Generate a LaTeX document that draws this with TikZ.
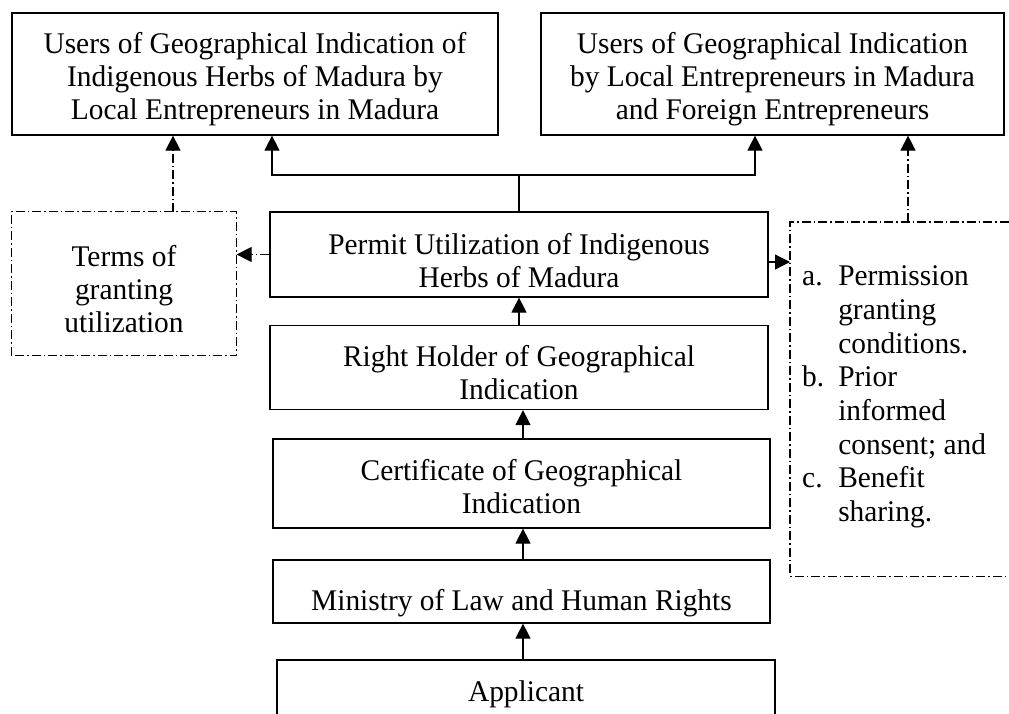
\documentclass[tikz,border=0pt]{standalone}
\usepackage{fontspec}
\setmainfont{Liberation Serif}[FakeStretch=0.98]
\usetikzlibrary{arrows.meta,calc}
\newcommand{\lowtext}[2][7pt]{\raisebox{-#1}[\height][\depth]{\begin{tabular}{@{}c@{}}#2\end{tabular}}}
\begin{document}
\begin{tikzpicture}[x=1pt,y=-1pt,
  box/.style={draw,line width=1.2pt,rectangle,inner sep=0pt,align=center,font=\fontsize{30}{33}\selectfont},
  dd/.style={line width=1.2pt,dash pattern=on 9pt off 3pt on 1.5pt off 3pt},
  arr/.style={-{Triangle[length=15pt,width=15pt]}},
  ln/.style={line width=1.2pt}]
\clip (0,0) rectangle (1009,713);
\fill[white] (0,0) rectangle (1009,713);
\node[box,minimum width=486pt,minimum height=122pt] (tl) at (255,74)
  {\lowtext[6pt]{Users of Geographical Indication of\\Indigenous Herbs of Madura by\\Local Entrepreneurs in Madura}};
\node[box,minimum width=463pt,minimum height=122pt] (tr) at (772.5,74)
  {\lowtext[6pt]{Users of Geographical Indication\\by Local Entrepreneurs in Madura\\and Foreign Entrepreneurs}};
\node[box,minimum width=498pt,minimum height=85pt] (permit) at (519,254.5)
  {\lowtext[10pt]{Permit Utilization of Indigenous\\Herbs of Madura}};
\node[box,minimum width=498pt,minimum height=84pt] (holder) at (519,367.5)
  {\lowtext[9pt]{Right Holder of Geographical\\Indication}};
\node[box,minimum width=497pt,minimum height=89pt] (cert) at (521.5,483.5)
  {\lowtext[7pt]{Certificate of Geographical\\Indication}};
\node[box,minimum width=497pt,minimum height=63pt] (min) at (521.5,591.5)
  {\lowtext[12pt]{Ministry of Law and Human Rights}};
\node[box,minimum width=498pt,minimum height=90pt,text depth=0pt] (app) at (526,705)
  {\raisebox{27pt}{Applicant}};
\node[box,draw=none,minimum width=224pt,minimum height=143pt] (terms) at (124,283.5)
  {\lowtext[9pt]{Terms of\\granting\\utilization}};
\draw[dd] (terms.south west) rectangle (terms.north east);
\node[box,draw=none,minimum width=260pt,minimum height=353pt,anchor=north west] (cond) at (790,222) {};
\draw[dd] (cond.south east) -- (cond.south west) -- (cond.north west) -- (cond.north east);
\node[anchor=north west,inner sep=0pt,font=\fontsize{30}{33.7}\selectfont] (condtext) at (802,262)
  {\begin{tabular}{@{}l@{\hspace{14pt}}l@{}}
   a. & Permission\\ & granting\\ & conditions.\\
   b. & Prior\\ & informed\\ & consent; and\\
   c. & Benefit\\ & sharing.
   \end{tabular}};
% central tree
\coordinate (J) at (519,175);
\coordinate (JL) at (272,175);
\coordinate (JR) at (755,175);
\draw[ln] (permit.north) -- (J);
\draw[ln,arr] (J) -- (JL) -- (JL |- tl.south);
\draw[ln,arr] (J) -- (JR) -- (JR |- tr.south);
% dash-dot links
\coordinate (TA) at (173,212);
\draw[dd,arr] (TA) -- (TA |- tl.south);
\coordinate (CA) at (908,222);
\draw[dd,arr] (CA) -- (CA |- tr.south);
\draw[dd,arr] (permit.west) -- (permit.west -| terms.east);
\draw[dd,arr] (permit.east |- 0,262) -- (cond.west |- 0,262);
% vertical chain
\coordinate (AX) at (523,0);
\draw[ln,arr] (app.north -| AX) -- (min.south -| AX);
\draw[ln,arr] (min.north -| AX) -- (cert.south -| AX);
\draw[ln,arr] (cert.north -| AX) -- (holder.south -| AX);
\draw[ln,arr] (holder.north) -- (permit.south);
\end{tikzpicture}
\end{document}
